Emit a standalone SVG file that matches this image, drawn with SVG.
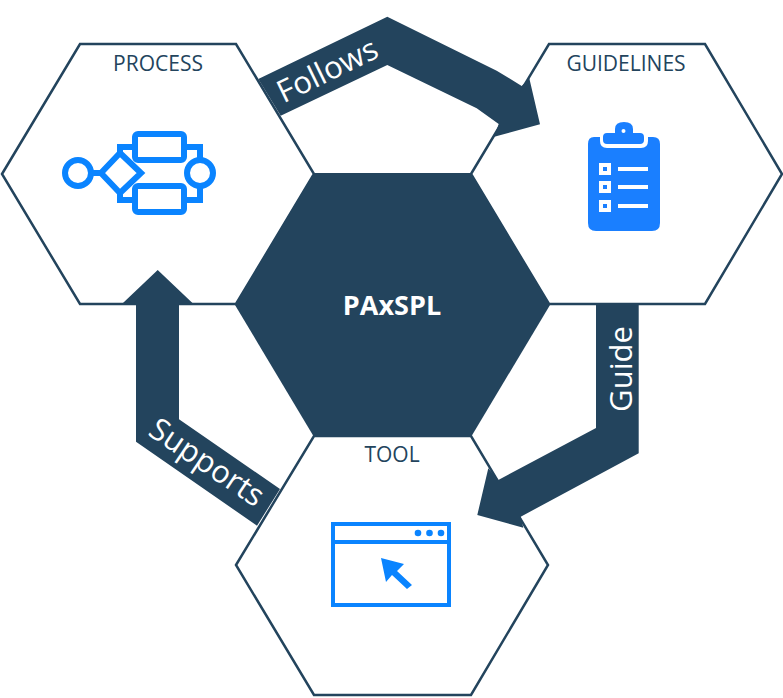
<svg xmlns="http://www.w3.org/2000/svg" width="783" height="698" viewBox="0 0 783 698">
<style>
.hex{fill:#fff;stroke:#23445d;stroke-width:2.5;stroke-linejoin:miter}
.conn{fill:#23445d;stroke:none}
.title{font-family:"Open Sans",sans-serif;font-size:21px;fill:#23445d;text-anchor:middle}
.lab{font-family:"Open Sans",sans-serif;font-size:31px;fill:#fff;text-anchor:middle}
.ic{fill:none;stroke:#0a84ff;stroke-width:6}
</style>
<rect width="783" height="698" fill="#fff"/>
<g id="node-process">
<polygon class="hex" points="2,174 80,44 236,44 314,174 236,304 80,304"/>
<text class="title" x="158" y="71">PROCESS</text>
<g class="ic">
<circle cx="78" cy="173" r="13"/>
<circle cx="200" cy="173" r="13"/>
<path d="M91,173H101"/>
<polygon points="120,153 141,173 120,193 101,173"/>
<rect x="135" y="134" width="49" height="26" rx="3"/>
<rect x="135" y="186" width="49" height="26" rx="3"/>
<path d="M120,153V147H135M184,147H200V160M120,193V200H135M184,200H200V186"/>
</g>
</g>
<g id="node-guidelines">
<polygon class="hex" points="471,174 549,44 705,44 782,174 705,304 549,304"/>
<text class="title" x="626" y="71">GUIDELINES</text>
<path d="M594,137H600V141Q600,148 607,148H641Q648,148 648,141V137H653Q660,137 660,144V223Q660,231 652,231H596Q588,231 588,223V144Q588,137 594,137Z" fill="#1a7fff"/>
<path d="M607,133H615V129Q615,122 624,122Q633,122 633,129V133H640Q644,133 644,137V140Q644,144 640,144H607Q603,144 603,140V137Q603,133 607,133Z" fill="#1a7fff"/>
<circle cx="623.500" cy="131" r="2" fill="#fff"/>
<g fill="#fff">
<rect x="599" y="163" width="12" height="12"/><rect x="599" y="181" width="12" height="12"/><rect x="599" y="200" width="12" height="12"/>
<rect x="618" y="167" width="30" height="4"/><rect x="618" y="185" width="30" height="4"/><rect x="618" y="204" width="30" height="4"/>
</g>
<g fill="#1a7fff">
<rect x="603" y="167" width="4" height="4"/><rect x="603" y="185" width="4" height="4"/><rect x="603" y="204" width="4" height="4"/>
</g>
</g>
<g id="node-tool">
<polygon class="hex" points="236,565 314,436 471,436 548,565 471,695 314,695"/>
<text class="title" x="392" y="462">TOOL</text>
<g class="ic" style="stroke-width:4">
<rect x="333" y="524" width="116" height="81"/>
<path d="M333,542H449"/>
</g>
<g fill="#0a84ff">
<circle cx="418" cy="533" r="3.300"/><circle cx="429.500" cy="533" r="3.300"/><circle cx="441" cy="533" r="3.300"/>
<polygon points="381,558 404,564 397,571 412,585 407,589 392,575 386,582"/>
</g>
</g>
<g id="node-center">
<polygon points="235,305 314,173 471,173 550,305 471,437 314,437" fill="#23445d"/>
<text x="392" y="315" font-family="'Open Sans',sans-serif" font-size="27" font-weight="700" fill="#fff" text-anchor="middle">PAxSPL</text>
</g>
<g id="connectors">
<polygon class="conn" points="258.300,79 387.300,16.700 496.700,70.700 521.700,86 529.300,78.300 540,124.300 494.300,136.700 498.700,124 476.700,108.300 387.300,65 280.700,115.700"/>
<polygon class="conn" points="596,305 638.700,305 638.700,453.300 520.700,516.700 523.300,527.700 477.300,515 488.300,468.300 498.300,480 596,428"/>
<polygon class="conn" points="157.700,270 192.700,303.300 179,303.300 179,419.300 280,489 257,525.700 136,441.700 136,303.300 122.700,303.300"/>
<text class="lab" transform="translate(332,80) rotate(-26)">Follows</text>
<text class="lab" transform="translate(632,369) rotate(-90)">Guide</text>
<text class="lab" transform="translate(201,471) rotate(34)">Supports</text>
</g>
</svg>
